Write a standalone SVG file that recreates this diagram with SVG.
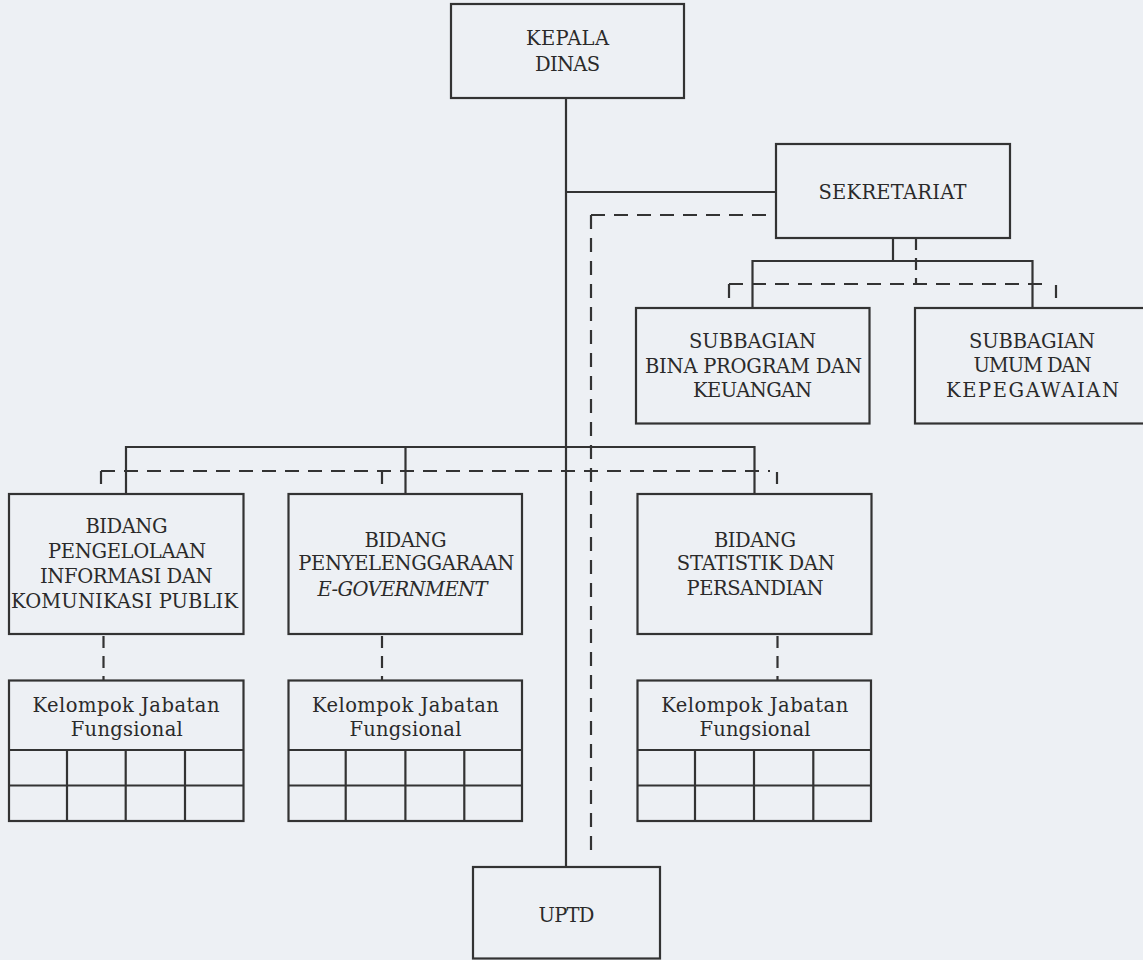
<svg xmlns="http://www.w3.org/2000/svg" width="1143" height="960" viewBox="0 0 1143 960">
<style>
.box{fill:none;stroke:#333;stroke-width:2.2}
.ln{fill:none;stroke:#333;stroke-width:2.2}
.ds{fill:none;stroke:#333;stroke-width:2.2;stroke-dasharray:14 9}
.dt{fill:none;stroke:#333;stroke-width:2.2;stroke-dasharray:12 8}
text{font-family:"DejaVu Serif","Liberation Serif",serif;font-size:19.5px;fill:#2a2a2a;text-anchor:middle}
.it{font-style:italic}
</style>
<rect x="0" y="0" width="1143" height="960" fill="#edf0f4"/>
<g id="connectors">
<path class="ln" d="M566 98 V867"/>
<path class="ln" d="M566 192 H776"/>
<path class="ln" d="M893 238 V261 M752.5 308 V261 H1032.5 V308"/>
<path class="ln" d="M126 494 V447 H754.5 V494 M405.5 447 V494"/>
<path class="ds" d="M591 215 H776"/>
<path class="ds" d="M591 215 V857"/>
<path class="dt" d="M916 238 V284"/>
<path class="ds" d="M729 284 H1047"/>
<path class="ln" d="M729 284 V298"/>
<path class="ln" d="M1056 285 V298"/>
<path class="ds" d="M101 471 H770"/>
<path class="ln" d="M101 471 V484 M382 484 V471 H388"/>
<path class="ln" d="M777 472 V484"/>
<path class="dt" d="M103.5 636 V680 M382 636 V680 M777.5 636 V680"/>
</g>
<g id="kepala-dinas">
<rect class="box" x="451" y="4" width="233" height="94"/>
<text x="567.5" y="45" textLength="83" lengthAdjust="spacing">KEPALA</text>
<text x="567.5" y="70.7" textLength="65" lengthAdjust="spacing">DINAS</text>
</g>
<g id="sekretariat">
<rect class="box" x="776" y="144" width="234" height="94"/>
<text x="892.5" y="199" textLength="148" lengthAdjust="spacing">SEKRETARIAT</text>
</g>
<g id="subbagian-bina-program">
<rect class="box" x="636" y="308" width="233.5" height="115.5"/>
<text x="752.5" y="348.3" textLength="127" lengthAdjust="spacing">SUBBAGIAN</text>
<text x="753.5" y="372.5" textLength="217" lengthAdjust="spacing">BINA PROGRAM DAN</text>
<text x="752.5" y="396.7" textLength="119" lengthAdjust="spacing">KEUANGAN</text>
</g>
<g id="subbagian-umum">
<rect class="box" x="915" y="308" width="240" height="115.5"/>
<text x="1032" y="347.5" textLength="126" lengthAdjust="spacing">SUBBAGIAN</text>
<text x="1032.5" y="372" textLength="118" lengthAdjust="spacing">UMUM DAN</text>
<text x="1032.5" y="396.7" textLength="173" lengthAdjust="spacing">KEPEGAWAIAN</text>
</g>
<g id="bidang-informasi">
<rect class="box" x="9" y="494" width="234.5" height="140"/>
<text x="126.5" y="533.3" textLength="82" lengthAdjust="spacing">BIDANG</text>
<text x="127" y="558.3" textLength="158" lengthAdjust="spacing">PENGELOLAAN</text>
<text x="126.3" y="583.3" textLength="172.5" lengthAdjust="spacing">INFORMASI DAN</text>
<text x="124.5" y="608.3" textLength="227" lengthAdjust="spacing">KOMUNIKASI PUBLIK</text>
</g>
<g id="bidang-egov">
<rect class="box" x="288.5" y="494" width="233.5" height="140"/>
<text x="405.5" y="546.7" textLength="82" lengthAdjust="spacing">BIDANG</text>
<text x="406.3" y="570" textLength="216" lengthAdjust="spacing">PENYELENGGARAAN</text>
<text class="it" x="402.5" y="595.5" textLength="170" lengthAdjust="spacing">E-GOVERNMENT</text>
</g>
<g id="bidang-statistik">
<rect class="box" x="637.5" y="494" width="234" height="140"/>
<text x="755" y="546.7" textLength="82" lengthAdjust="spacing">BIDANG</text>
<text x="755.8" y="570" textLength="158" lengthAdjust="spacing">STATISTIK DAN</text>
<text x="755" y="595" textLength="137" lengthAdjust="spacing">PERSANDIAN</text>
</g>
<g id="kjf-1">
<rect class="box" x="9" y="680.5" width="234.5" height="140.5"/>
<path class="ln" d="M9 750 H243.5 M9 785.5 H243.5 M67 750 V821 M125.7 750 V821 M185 750 V821"/>
<text x="126" y="711.7" textLength="187" lengthAdjust="spacing">Kelompok Jabatan</text>
<text x="126.8" y="735.5" textLength="112" lengthAdjust="spacing">Fungsional</text>
</g>
<g id="kjf-2">
<rect class="box" x="288.5" y="680.5" width="233.5" height="140.5"/>
<path class="ln" d="M288.5 750 H522 M288.5 785.5 H522 M345.7 750 V821 M405.4 750 V821 M464.3 750 V821"/>
<text x="405.4" y="711.7" textLength="187" lengthAdjust="spacing">Kelompok Jabatan</text>
<text x="405.4" y="735.5" textLength="112" lengthAdjust="spacing">Fungsional</text>
</g>
<g id="kjf-3">
<rect class="box" x="637.5" y="680.5" width="233.5" height="140.5"/>
<path class="ln" d="M637.5 750 H871 M637.5 785.5 H871 M695 750 V821 M754 750 V821 M813.3 750 V821"/>
<text x="754.7" y="711.7" textLength="187" lengthAdjust="spacing">Kelompok Jabatan</text>
<text x="755" y="735.5" textLength="111" lengthAdjust="spacing">Fungsional</text>
</g>
<g id="uptd">
<rect class="box" x="473" y="867" width="187" height="91.5"/>
<text x="566.5" y="921.7" textLength="56" lengthAdjust="spacing">UPTD</text>
</g>
</svg>
